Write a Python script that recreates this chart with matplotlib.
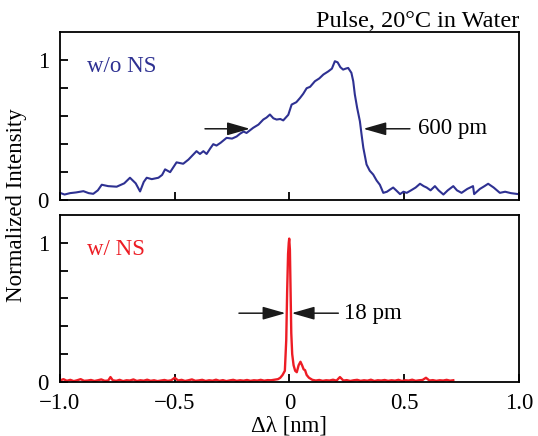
import matplotlib
matplotlib.use("Agg")
import matplotlib.pyplot as plt

plt.rcParams['font.family'] = ['Liberation Serif', 'DejaVu Serif']
plt.rcParams['mathtext.fontset'] = 'stix'

# ---- data: without NS (blue) ----
blue_x = [-1.0, -0.98, -0.956, -0.93, -0.898, -0.875, -0.855, -0.835, -0.818, -0.79,
          -0.753, -0.72, -0.695, -0.67, -0.651, -0.635, -0.622, -0.6, -0.571, -0.555,
          -0.542, -0.52, -0.492, -0.463, -0.44, -0.405, -0.39, -0.375, -0.361, -0.345,
          -0.332, -0.318, -0.3, -0.274, -0.25, -0.23, -0.215, -0.2, -0.187, -0.158,
          -0.135, -0.114, -0.1, -0.085, -0.07, -0.056, -0.04, -0.027, -0.005, 0.0095,
          0.03, 0.046, 0.06, 0.075, 0.09, 0.111, 0.13, 0.148, 0.169, 0.185,
          0.198, 0.21, 0.222, 0.234, 0.245, 0.256, 0.27, 0.278, 0.285, 0.295,
          0.307, 0.315, 0.322, 0.336, 0.35, 0.365, 0.38, 0.394, 0.409, 0.425,
          0.438, 0.452, 0.465, 0.482, 0.497, 0.511, 0.53, 0.55, 0.569, 0.585,
          0.598, 0.615, 0.634, 0.65, 0.671, 0.69, 0.714, 0.73, 0.75, 0.775,
          0.8, 0.805, 0.83, 0.85, 0.866, 0.89, 0.917, 0.94, 0.965, 0.997]
blue_y = [0.052, 0.04, 0.05, 0.055, 0.064, 0.05, 0.045, 0.07, 0.11, 0.1,
          0.096, 0.12, 0.16, 0.12, 0.062, 0.13, 0.16, 0.15, 0.16, 0.18,
          0.22, 0.2, 0.27, 0.26, 0.29, 0.35, 0.33, 0.35, 0.33, 0.37,
          0.40, 0.39, 0.41, 0.445, 0.44, 0.455, 0.475, 0.49, 0.48, 0.517,
          0.54, 0.576, 0.59, 0.612, 0.585, 0.576, 0.58, 0.57, 0.61, 0.683,
          0.70, 0.73, 0.76, 0.80, 0.81, 0.85, 0.87, 0.898, 0.92, 0.94,
          0.993, 0.985, 0.95, 0.933, 0.94, 0.945, 0.91, 0.85, 0.755, 0.66,
          0.564, 0.46, 0.374, 0.255, 0.21, 0.183, 0.14, 0.11, 0.052, 0.06,
          0.075, 0.09, 0.07, 0.043, 0.06, 0.052, 0.07, 0.09, 0.117, 0.1,
          0.09, 0.07, 0.1, 0.07, 0.04, 0.07, 0.1, 0.07, 0.052, 0.08,
          0.1, 0.043, 0.08, 0.1, 0.117, 0.09, 0.052, 0.06, 0.05, 0.043]

# ---- data: with NS (red) ----
red_x = [-1.0, -0.985, -0.97, -0.955, -0.94, -0.925, -0.91, -0.895, -0.88, -0.865,
         -0.85, -0.835, -0.82, -0.805, -0.79, -0.78, -0.77, -0.755, -0.74, -0.725,
         -0.71, -0.695, -0.68, -0.665, -0.65, -0.635, -0.62, -0.605, -0.59, -0.575,
         -0.56, -0.545, -0.53, -0.515, -0.5, -0.485, -0.47, -0.455, -0.44, -0.425,
         -0.41, -0.395, -0.38, -0.365, -0.35, -0.335, -0.32, -0.305, -0.29, -0.275,
         -0.26, -0.245, -0.23, -0.215, -0.2, -0.185, -0.17, -0.155, -0.14, -0.125,
         -0.11, -0.095, -0.08, -0.065, -0.05, -0.04, -0.03, -0.02, -0.014, -0.01,
         -0.006, -0.003, -0.001, 0.002, 0.005, 0.008, 0.012, 0.018, 0.025, 0.032,
         0.04, 0.048, 0.055, 0.062, 0.068, 0.075, 0.085, 0.1, 0.115, 0.13,
         0.145, 0.16, 0.175, 0.19, 0.205, 0.22, 0.235, 0.25, 0.265, 0.28,
         0.295, 0.31, 0.325, 0.34, 0.355, 0.37, 0.385, 0.4, 0.415, 0.43,
         0.445, 0.46, 0.475, 0.49, 0.505, 0.52, 0.535, 0.55, 0.565, 0.58,
         0.595, 0.61, 0.625, 0.64, 0.655, 0.67, 0.685, 0.7, 0.714]
red_y = [0.01, 0.02, 0.008, 0.015, 0.006, 0.012, 0.02, 0.008, 0.01, 0.014,
         0.007, 0.012, 0.018, 0.008, 0.01, 0.035, 0.012, 0.008, 0.015, 0.006,
         0.012, 0.01, 0.018, 0.007, 0.012, 0.009, 0.016, 0.008, 0.012, 0.006,
         0.01, 0.014, 0.008, 0.012, 0.03, 0.01, 0.015, 0.007, 0.012, 0.018,
         0.008, 0.011, 0.015, 0.007, 0.012, 0.009, 0.016, 0.008, 0.013, 0.006,
         0.011, 0.015, 0.008, 0.012, 0.009, 0.014, 0.008, 0.012, 0.01, 0.015,
         0.009, 0.013, 0.012, 0.016, 0.02, 0.03, 0.05, 0.08, 0.3, 0.65,
         0.92, 1.0, 1.03, 0.95, 0.65, 0.35, 0.2, 0.12, 0.08, 0.07,
         0.12, 0.145, 0.12, 0.09, 0.085, 0.05, 0.03, 0.015, 0.01, 0.014,
         0.008, 0.012, 0.01, 0.016, 0.009, 0.035, 0.01, 0.013, 0.007, 0.012,
         0.015, 0.008, 0.012, 0.009, 0.016, 0.007, 0.012, 0.01, 0.014, 0.008,
         0.012, 0.009, 0.015, 0.007, 0.012, 0.01, 0.016, 0.008, 0.012, 0.014,
         0.03, 0.01, 0.013, 0.008, 0.012, 0.01, 0.015, 0.009, 0.012]

yticks = [0, 0.2, 0.4, 0.6, 0.8, 1.0]
ytick_labels = ['0', '', '', '', '', '1']
xticks = [-1.0, -0.5, 0, 0.5, 1.0]
xtick_labels = ['\u22121.0', '\u22120.5', '0', '0.5', '1.0']

BLUE = '#2E3192'
RED = '#ED1C24'
FS = 16.5

fig = plt.figure(figsize=(5.38, 4.36), dpi=100)
ax1 = fig.add_axes([0.1115, 0.541, 0.853, 0.385])
ax2 = fig.add_axes([0.1115, 0.124, 0.853, 0.383])

ax1.plot(blue_x, blue_y, color=BLUE, lw=1.5)
ax2.plot(red_x, red_y, color=RED, lw=1.7)

for ax in (ax1, ax2):
    ax.set_xlim(-1, 1)
    ax.set_ylim(0, 1.2)
    ax.set_yticks(yticks)
    ax.set_yticklabels(ytick_labels, fontsize=FS)
    ax.set_xticks(xticks)
    ax.tick_params(direction='in', length=6, width=1.3, right=False, top=False)
    ax.tick_params(axis='y', pad=8)
    ax.tick_params(axis='x', pad=8)
    for s in ax.spines.values():
        s.set_linewidth(1.3)

ax1.set_xticklabels([])
ax2.set_xticklabels(xtick_labels, fontsize=FS)
ax2.set_xlabel('\u0394\u03bb [nm]', fontsize=FS, labelpad=1)
fig.text(0.012, 0.53, 'Normalized Intensity', rotation=90, fontsize=FS,
         va='center', ha='left')

ax1.set_title('Pulse, 20\u00b0C in Water', loc='right', fontsize=17.5, pad=4)

ax1.text(-0.884, 0.957, 'w/o NS', color=BLUE, fontsize=FS, va='center', ha='left')
ax2.text(-0.884, 0.95, 'w/ NS', color=RED, fontsize=FS, va='center', ha='left')

ap = dict(arrowstyle='-|>,head_length=0.7,head_width=0.2', color='#1a1a1a',
          lw=1.1, mutation_scale=20, shrinkA=0, shrinkB=0)
ax1.annotate('', xy=(-0.172, 0.51), xytext=(-0.368, 0.51), arrowprops=ap)
ax1.annotate('', xy=(0.322, 0.51), xytext=(0.525, 0.51), arrowprops=ap)
ax1.text(0.56, 0.51, '600 pm', fontsize=FS, va='center', ha='left')

ax2.annotate('', xy=(-0.017, 0.494), xytext=(-0.22, 0.494), arrowprops=ap)
ax2.annotate('', xy=(0.0095, 0.494), xytext=(0.213, 0.494), arrowprops=ap)
ax2.text(0.238, 0.494, '18 pm', fontsize=FS, va='center', ha='left')

fig.savefig('out.png', dpi=100)
